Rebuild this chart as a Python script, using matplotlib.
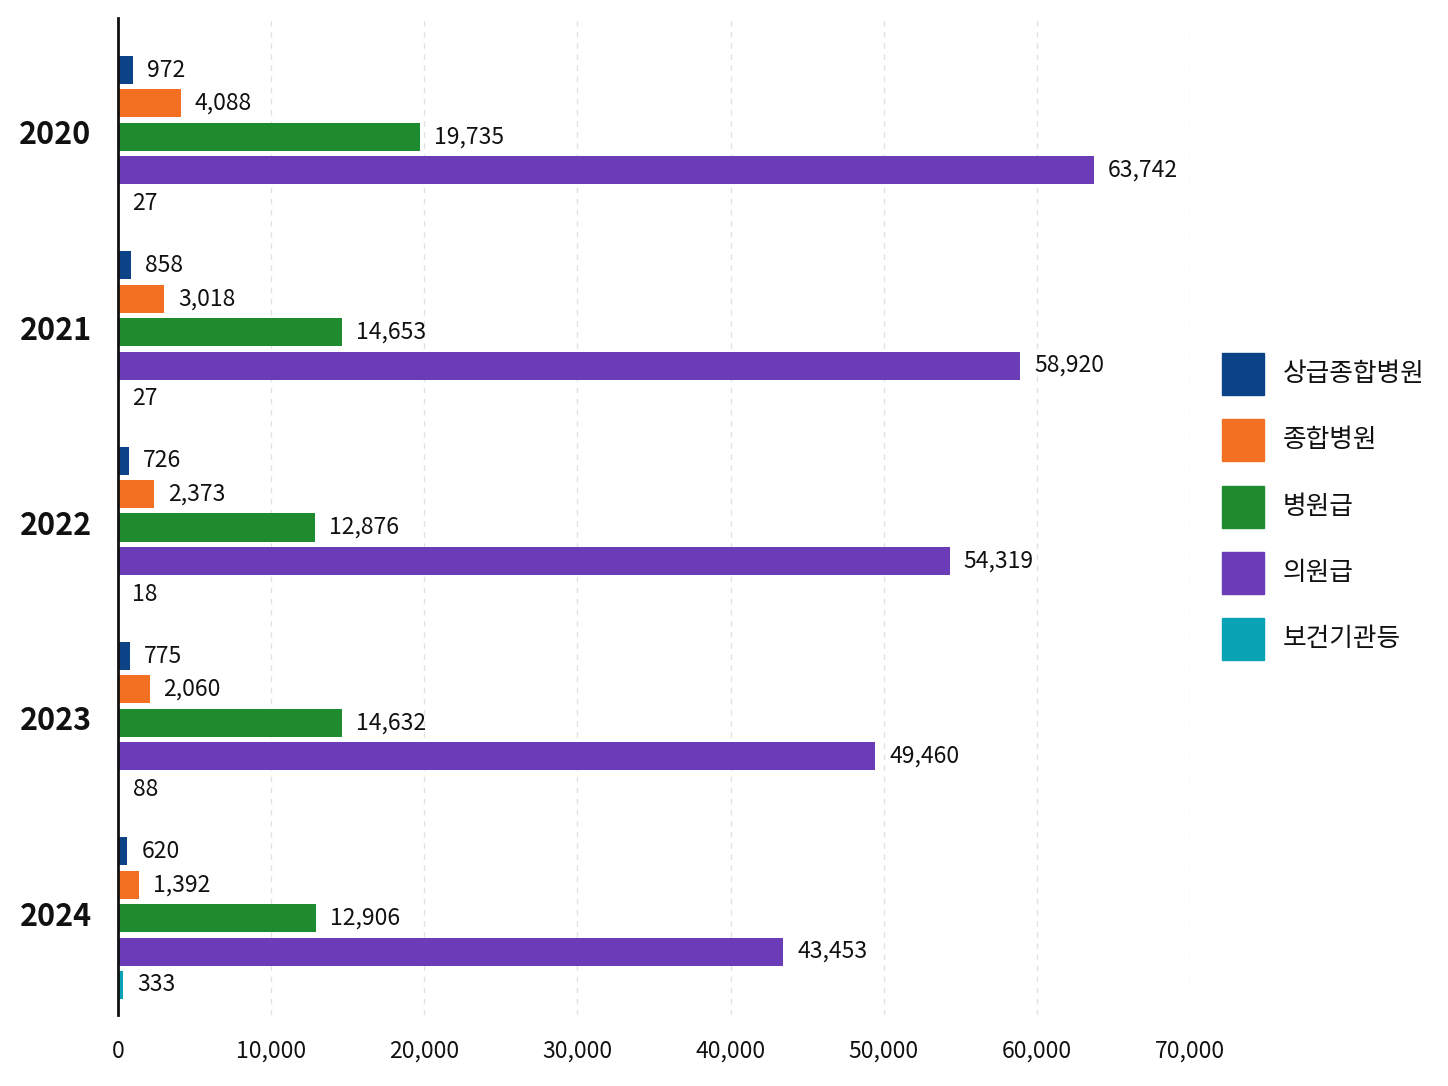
import matplotlib
matplotlib.use("Agg")
import matplotlib.pyplot as plt
from matplotlib.patches import Rectangle
import numpy as np

plt.rcParams['font.family'] = ['Noto Sans CJK KR', 'DejaVu Sans']

years = ["2020", "2021", "2022", "2023", "2024"]
categories = ["상급종합병원", "종합병원", "병원급", "의원급", "보건기관등"]
tertiary = [972, 858, 726, 775, 620]
general = [4088, 3018, 2373, 2060, 1392]
hospital = [19735, 14653, 12876, 14632, 12906]
clinic = [63742, 58920, 54319, 49460, 43453]
public = [27, 27, 18, 88, 333]
series = [tertiary, general, hospital, clinic, public]
colors = ["#0b4386", "#f36f21", "#1f8b2f", "#6a3cb7", "#0aa3b5"]
xticks = [0, 10000, 20000, 30000, 40000, 50000, 60000, 70000]

fig = plt.figure(figsize=(14.48, 10.86), dpi=100)
ax = fig.add_axes([118/1448, 1 - 1015/1086, (1190-118)/1448, (1015-18)/1086])

group_gap = 5.85
bar_h = 0.84
for gi, yr in enumerate(years):
    for j, s in enumerate(series):
        y = gi * group_gap + (j - 2)
        v = s[gi]
        ax.barh(y, v, height=bar_h, color=colors[j], left=0, zorder=3)
        ax.annotate(f"{v:,}", xy=(v, y), xytext=(10, 0), textcoords="offset points",
                    ha="left", va="center", fontsize=16.5, color="#111111")

ax.set_yticks([gi * group_gap - 0.15 for gi in range(len(years))])
ax.set_yticklabels(years, fontsize=22, fontweight="bold", color="#111111")
ax.tick_params(axis="y", length=0, pad=19)
ax.set_ylim(4 * group_gap + 2 + 0.9, -2 - 1.56)

ax.set_xlim(0, 70000)
ax.set_xticks(xticks)
ax.set_xticklabels([f"{t:,}" for t in xticks], fontsize=16.5, color="#111111")
ax.tick_params(axis="x", length=0, pad=18)
ax.grid(axis="x", linestyle=(0, (4, 4)), color="#e2e2e2", linewidth=1, zorder=0)
for sp in ["top", "right", "bottom"]:
    ax.spines[sp].set_visible(False)
ax.spines["left"].set_linewidth(2)
ax.spines["left"].set_color("#111111")
ax.spines["left"].set_zorder(5)

# legend
W, H = 1448, 1086
for k, (cat, col) in enumerate(zip(categories, colors)):
    cy = 374 + k * 66.3
    fig.patches.append(Rectangle((1222 / W, 1 - (cy + 21) / H), 42 / W, 42 / H,
                                 transform=fig.transFigure, color=col))
    fig.text(1283 / W, 1 - cy / H, cat, fontsize=18.5,
             va="center", ha="left", color="#111111")

fig.savefig("out.png", dpi=100, facecolor="white")
